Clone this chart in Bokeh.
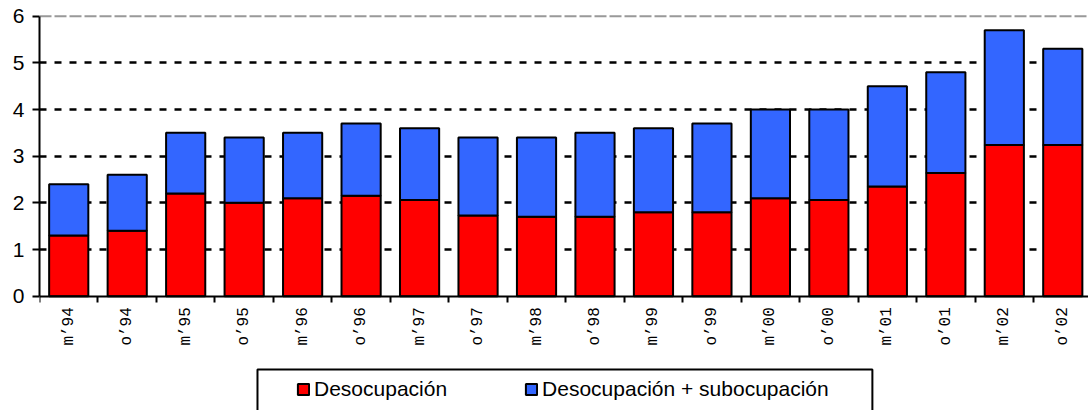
import math
from bokeh.plotting import figure
from bokeh.models import (ColumnDataSource, FixedTicker, Legend, LegendItem,
                          Span, BoxAnnotation)
from bokeh.embed import file_html
from bokeh.resources import INLINE

categories = ["m’94", "o’94", "m’95", "o’95", "m’96", "o’96", "m’97", "o’97",
              "m’98", "o’98", "m’99", "o’99", "m’00", "o’00", "m’01", "o’01",
              "m’02", "o’02"]
desocupacion = [1.3, 1.4, 2.2, 2.0, 2.1, 2.15, 2.06, 1.73, 1.7, 1.7, 1.8, 1.8,
                2.1, 2.06, 2.35, 2.64, 3.24, 3.24]
total = [2.4, 2.6, 3.5, 3.4, 3.5, 3.7, 3.6, 3.4, 3.4, 3.5, 3.6, 3.7,
         4.0, 4.0, 4.5, 4.8, 5.7, 5.3]

xs = [i + 0.5 for i in range(len(categories))]
src = ColumnDataSource(dict(x=xs, red=desocupacion, tot=total))

p = figure(width=1088, height=410, output_backend="svg", toolbar_location=None,
           x_range=(0, 17.94), y_range=(-2.449, 6.036),
           min_border_left=39, min_border_right=0, min_border_top=14,
           min_border_bottom=0)
p.outline_line_color = None
p.background_fill_color = "white"

# grid
p.xgrid.visible = False
p.ygrid.ticker = FixedTicker(ticks=[1, 2, 3, 4, 5])
p.ygrid.grid_line_color = "black"
p.ygrid.grid_line_dash = "7 8"
p.ygrid.grid_line_width = 2.5
top_line = Span(location=6, dimension="width", line_color="#999999",
                line_width=2, line_dash="12 3", level="underlay")
p.add_layout(top_line)

r1 = p.vbar(x="x", top="red", bottom=0, width=0.67, source=src,
            fill_color="#FF0000", line_color="black", line_width=2)
r2 = p.vbar(x="x", top="tot", bottom="red", width=0.67, source=src,
            fill_color="#3366FF", line_color="black", line_width=2)

# y axis
ya = p.yaxis[0]
ya.ticker = FixedTicker(ticks=[0, 1, 2, 3, 4, 5, 6])
ya.bounds = (0, 6)
ya.axis_line_width = 2
ya.major_tick_line_width = 2
ya.major_tick_out = 7
ya.major_tick_in = 0
ya.minor_tick_line_color = None
ya.major_label_standoff = 8
ya.major_label_text_font = "Liberation Sans"
ya.major_label_text_font_size = "21px"
ya.major_label_text_color = "black"

# x axis
xa = p.xaxis[0]
xa.fixed_location = 0
xa.ticker = FixedTicker(ticks=xs, minor_ticks=list(range(len(categories) + 1)))
xa.major_label_overrides = {x: c for x, c in zip(xs, categories)}
xa.major_label_orientation = math.pi / 2
xa.major_label_text_font = "Liberation Mono"
xa.major_label_text_font_size = "16px"
xa.major_label_text_color = "black"
xa.major_tick_line_color = None
xa.major_tick_out = 6
xa.major_label_standoff = 5
xa.minor_tick_line_color = "black"
xa.minor_tick_line_width = 2
xa.minor_tick_out = 6
xa.minor_tick_in = 0
xa.axis_line_width = 2

# legend
legend = Legend(items=[LegendItem(label="Desocupación", renderers=[r1]),
                       LegendItem(label="Desocupación + subocupación", renderers=[r2])],
                orientation="horizontal", location=(257, 9), spacing=77,
                padding=0, margin=0, border_line_alpha=0, background_fill_alpha=0,
                glyph_width=14, glyph_height=14, label_standoff=4,
                label_text_font="Liberation Sans", label_text_font_size="21px",
                label_text_color="black")
p.add_layout(legend)

box = BoxAnnotation(left=3.728, right=14.244, top=-1.571, bottom=-3.0,
                    fill_alpha=0, line_color="black", line_alpha=1.0,
                    line_width=2)
p.add_layout(box)

open("out.html", "w").write(file_html(p, INLINE))
